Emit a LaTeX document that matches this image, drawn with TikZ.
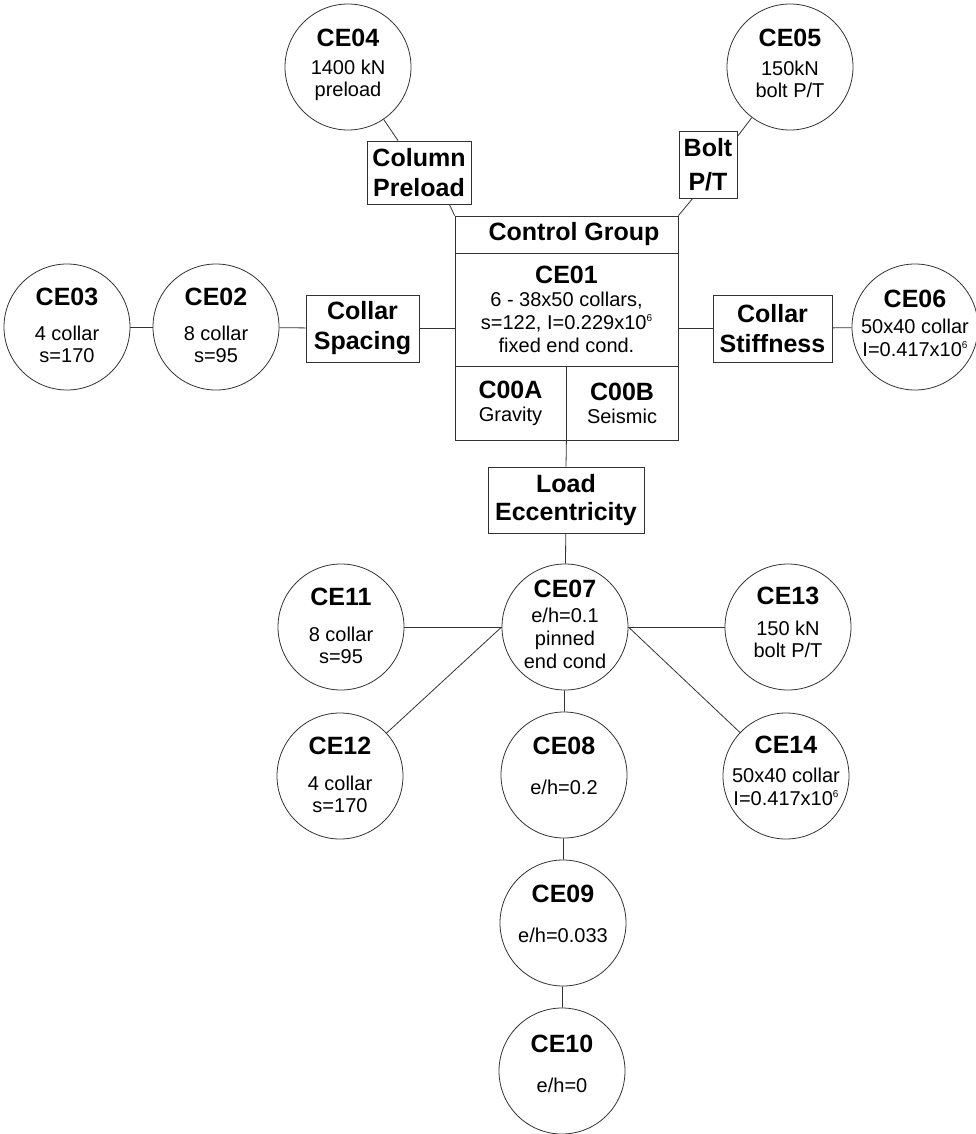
\documentclass[tikz,border=0pt]{standalone}
\usepackage{fontspec}
\setmainfont{Liberation Sans}
\usetikzlibrary{calc}
\newcommand\mkt[4]{\node[#1] (#2) at ($(#3)+(0,#4)$)}
\newcommand\smallsup[1]{\raisebox{8pt}{\fontsize{10}{10}\selectfont #1}}
\begin{document}
\begin{tikzpicture}[x=1pt,y=-1pt,
  ln/.style={draw=black!80,line width=0.8pt},
  circ/.style={circle,ln,minimum size=126pt,inner sep=0pt},
  boxn/.style={rectangle,ln,inner sep=0pt,align=center,font=\fontsize{25}{30}\selectfont\bfseries},
  ttl/.style={font=\fontsize{25}{28}\selectfont\bfseries,anchor=base,inner sep=0pt},
  bdy/.style={font=\fontsize{20}{23}\selectfont,anchor=base,inner sep=0pt},
  cell/.style={rectangle,ln,inner sep=0pt,align=center,font=\fontsize{20}{23}\selectfont}
]
\useasboundingbox[fill=white] (0,0) rectangle (976,1134);

% central block
\node[boxn,minimum width=223pt,minimum height=37pt] (cg) at (566.5,234.5) {\hspace*{15pt}Control Group};
\node[cell,minimum width=223pt,minimum height=113pt] (ce01) at (566.5,309.5)
  {{\fontsize{25}{28}\selectfont\bfseries CE01}\\6 - 38x50 collars,\\s=122, I=0.229x10\smallsup{6}\\fixed end cond.};
\node[cell,minimum width=111pt,minimum height=74pt] (c00a) at (510.5,403)
  {{\fontsize{25}{28}\selectfont\bfseries C00A}\\Gravity};
\node[cell,minimum width=112pt,minimum height=74pt] (c00b) at (622,403)
  {{\fontsize{25}{28}\selectfont\bfseries C00B}\\Seismic};

% category boxes
\node[boxn,minimum width=104pt,minimum height=63pt] (cp) at (419,172.5) {Column\\Preload};
\node[boxn,minimum width=58pt,minimum height=67pt,font=\fontsize{25}{34}\selectfont\bfseries] (bp) at (708,164.5) {Bolt\\P/T};
\node[boxn,minimum width=113pt,minimum height=67pt] (cs) at (362.5,328.5) {Collar\\Spacing};
\node[boxn,minimum width=119pt,minimum height=67pt] (cst) at (772.5,328.5) {Collar\\Stiffness};
\node[boxn,minimum width=156pt,minimum height=66pt,font=\fontsize{25}{28}\selectfont\bfseries] (le) at (566,500) {Load\\Eccentricity};

% circles
\node[circ] (ce04) at (348,67) {};
\mkt{ttl}{ce04t}{ce04}{-20}{CE04};
\mkt{bdy}{ce04a}{ce04}{8}{1400 kN};
\mkt{bdy}{ce04b}{ce04}{30}{preload};

\node[circ] (ce05) at (790,67) {};
\mkt{ttl}{ce05t}{ce05}{-20}{CE05};
\mkt{bdy}{ce05a}{ce05}{9}{150kN};
\mkt{bdy}{ce05b}{ce05}{31}{bolt P/T};

\node[circ] (ce03) at (67,327) {};
\mkt{ttl}{ce03t}{ce03}{-22}{CE03};
\mkt{bdy}{ce03a}{ce03}{13}{4 collar};
\mkt{bdy}{ce03b}{ce03}{35}{s=170};

\node[circ] (ce02) at (216,327) {};
\mkt{ttl}{ce02t}{ce02}{-22}{CE02};
\mkt{bdy}{ce02a}{ce02}{13}{8 collar};
\mkt{bdy}{ce02b}{ce02}{35}{s=95};

\node[circ] (ce06) at (915,327) {};
\mkt{ttl}{ce06t}{ce06}{-20}{CE06};
\mkt{bdy}{ce06a}{ce06}{6}{50x40 collar};
\mkt{bdy}{ce06b}{ce06}{29}{I=0.417x10\smallsup{6}};

\node[circ] (ce07) at (565,627) {};
\mkt{ttl}{ce07t}{ce07}{-30}{CE07};
\mkt{bdy}{ce07a}{ce07}{-5}{e/h=0.1};
\mkt{bdy}{ce07b}{ce07}{18}{pinned};
\mkt{bdy}{ce07c}{ce07}{41}{end cond};

\node[circ] (ce11) at (341,627) {};
\mkt{ttl}{ce11t}{ce11}{-22}{CE11};
\mkt{bdy}{ce11a}{ce11}{14}{8 collar};
\mkt{bdy}{ce11b}{ce11}{36}{s=95};

\node[circ] (ce12) at (340,776) {};
\mkt{ttl}{ce12t}{ce12}{-22}{CE12};
\mkt{bdy}{ce12a}{ce12}{14}{4 collar};
\mkt{bdy}{ce12b}{ce12}{36}{s=170};

\node[circ] (ce13) at (788,627) {};
\mkt{ttl}{ce13t}{ce13}{-23}{CE13};
\mkt{bdy}{ce13a}{ce13}{8}{150 kN};
\mkt{bdy}{ce13b}{ce13}{30}{bolt P/T};

\node[circ] (ce14) at (786,776) {};
\mkt{ttl}{ce14t}{ce14}{-23}{CE14};
\mkt{bdy}{ce14a}{ce14}{6}{50x40 collar};
\mkt{bdy}{ce14b}{ce14}{29}{I=0.417x10\smallsup{6}};

\node[circ] (ce08) at (564,775) {};
\mkt{ttl}{ce08t}{ce08}{-21}{CE08};
\mkt{bdy}{ce08a}{ce08}{19}{e/h=0.2};

\node[circ] (ce09) at (563,923) {};
\mkt{ttl}{ce09t}{ce09}{-21}{CE09};
\mkt{bdy}{ce09a}{ce09}{19}{e/h=0.033};

\node[circ] (ce10) at (562,1071) {};
\mkt{ttl}{ce10t}{ce10}{-19}{CE10};
\mkt{bdy}{ce10a}{ce10}{21}{e/h=0};

% connectors
\draw[ln] (ce04) -- ($(cp.north west)!0.3!(cp.north east)$);
\draw[ln] ($(cp.south west)!0.79!(cp.south east)$) -- (cg.north west);
\draw[ln] (ce05) -- ($(bp.north east)+(0,6)$);
\draw[ln] ($(bp.south west)!0.24!(bp.south east)$) -- (cg.north east);
\draw[ln] (ce03) -- (ce02);
\draw[ln] (ce02) -- (cs);
\draw[ln] (cs.east) -- (cs.east -| ce01.west);
\draw[ln] (cst.west -| ce01.east) -- (cst.west);
\draw[ln] (cst) -- (ce06);
\draw[ln] (c00a.south east) -- (le.north);
\draw[ln] (le) -- (ce07);
\draw[ln] (ce11) -- (ce07);
\draw[ln] (ce07.west) -- (ce12);
\draw[ln] (ce07) -- (ce13);
\draw[ln] (ce07.east) -- (ce14);
\draw[ln] (ce07) -- (ce08);
\draw[ln] (ce08) -- (ce09);
\draw[ln] (ce09) -- (ce10);
\end{tikzpicture}
\end{document}
